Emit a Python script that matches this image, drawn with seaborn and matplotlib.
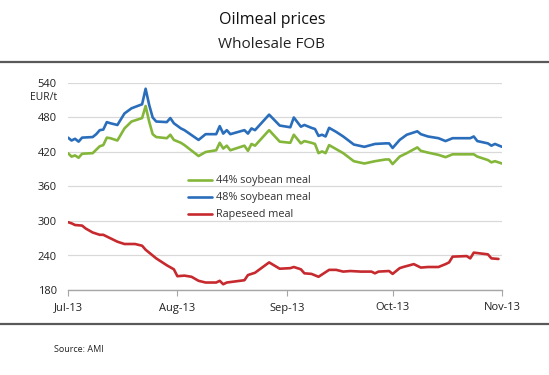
import matplotlib
matplotlib.use("Agg")
import matplotlib.pyplot as plt
from matplotlib.lines import Line2D
import seaborn as sns
import pandas as pd

# ---- data (day offsets from 1 Jul 2013, EUR/t) ----
soy_days = [0, 1, 2, 3, 4, 7, 8, 9, 10, 11, 12, 14, 16, 18, 21, 22, 23, 24, 25, 28,
            29, 30, 32, 33, 37, 39, 42, 43, 44, 45, 46, 50, 51, 52, 53, 57, 60, 63, 64,
            66, 67, 69, 70, 71, 72, 73, 74, 76, 78, 81, 84, 87, 90, 91, 92, 94, 96, 99,
            100, 102, 105, 107, 109, 114, 115, 116, 119, 120, 121, 123]
soy48 = [445, 440, 443, 438, 445, 446, 451, 458, 459, 472, 470, 467, 487, 496, 503, 530,
         502, 480, 473, 472, 479, 470, 461, 458, 441, 451, 451, 465, 452, 458, 451, 458,
         452, 461, 458, 485, 466, 463, 480, 464, 467, 462, 460, 448, 450, 447, 462, 455,
         447, 433, 429, 434, 435, 435, 427, 441, 450, 456, 451, 447, 444, 439, 444, 444,
         447, 439, 435, 431, 434, 429]
soy44 = [418, 412, 414, 410, 417, 418, 424, 430, 432, 445, 444, 440, 461, 473, 479, 500,
         473, 451, 446, 444, 450, 441, 436, 432, 413, 420, 423, 436, 426, 431, 423, 431,
         422, 434, 431, 458, 438, 436, 450, 435, 439, 436, 434, 418, 421, 418, 432, 425,
         418, 404, 400, 404, 407, 407, 399, 412, 418, 428, 422, 419, 415, 411, 416, 416,
         416, 412, 406, 402, 404, 400]
rape_days = [0, 1, 2, 4, 5, 7, 9, 10, 12, 14, 16, 19, 21, 22, 25, 28, 30, 31, 33, 35,
             37, 39, 42, 43, 44, 45, 50, 51, 53, 57, 60, 63, 64, 66, 67, 69, 71, 74, 76,
             78, 80, 83, 86, 87, 88, 91, 92, 94, 95, 98, 100, 102, 105, 107, 108, 109,
             113, 114, 115, 119, 120, 122]
rapeseed = [298, 296, 293, 292, 287, 280, 276, 276, 270, 264, 260, 260, 257, 250, 235,
            223, 216, 204, 205, 203, 196, 193, 193, 196, 190, 193, 197, 206, 210, 228,
            217, 218, 220, 216, 209, 208, 203, 215, 215, 212, 213, 212, 212, 209, 212,
            213, 208, 218, 220, 225, 219, 220, 220, 225, 228, 238, 239, 235, 245, 242,
            235, 234]
series_names = ["44% soybean meal", "48% soybean meal", "Rapeseed meal"]
colors = ["#84B63A", "#2A6EBB", "#C62A2E"]
tick_labels = ["Jul-13", "Aug-13", "Sep-13", "Oct-13", "Nov-13"]
yticks = [180, 240, 300, 360, 420, 480, 540]

start = pd.Timestamp("2013-07-01")
frames = [
    pd.DataFrame({"date": start + pd.to_timedelta(soy_days, "D"), "price": soy44, "series": series_names[0]}),
    pd.DataFrame({"date": start + pd.to_timedelta(soy_days, "D"), "price": soy48, "series": series_names[1]}),
    pd.DataFrame({"date": start + pd.to_timedelta(rape_days, "D"), "price": rapeseed, "series": series_names[2]}),
]
df = pd.concat(frames, ignore_index=True)

sns.set_theme(style="white")
plt.rcParams["font.family"] = ["Open Sans", "DejaVu Sans"]

W, H = 549, 375
fig = plt.figure(figsize=(W / 100, H / 100), dpi=100)
ax = fig.add_axes([68 / W, 1 - 290 / H, 434 / W, 207 / H])

sns.lineplot(data=df, x="date", y="price", hue="series", hue_order=series_names,
             palette=dict(zip(series_names, colors)), linewidth=1.9, ax=ax,
             estimator=None, sort=True)

ax.set_xlim(start, pd.Timestamp("2013-11-01"))
ax.set_ylim(180, 540)
ax.set_yticks(yticks)
ax.set_yticklabels([str(v) for v in yticks])
month_ticks = pd.date_range("2013-07-01", "2013-11-01", freq="MS")
ax.set_xticks(month_ticks)
ax.set_xticklabels(tick_labels)
ax.set_xlabel("")
ax.set_ylabel("")
ax.yaxis.grid(True, color="#d9d9d9", linewidth=0.9)
ax.set_axisbelow(True)
for s in ["left", "right", "top"]:
    ax.spines[s].set_visible(False)
ax.spines["bottom"].set_color("#a6a6a6")
ax.spines["bottom"].set_linewidth(1.0)
ax.tick_params(axis="x", bottom=True, length=4, width=0.8, color="#a6a6a6",
               direction="out", pad=5, labelsize=8, labelcolor="#222222")
ax.tick_params(axis="y", left=False, length=0, pad=8, labelsize=8, labelcolor="#222222")

handles, labels = ax.get_legend_handles_labels()
ax.legend(handles, labels, loc="upper left", bbox_to_anchor=(183 / W, 1 - 170 / H),
          bbox_transform=fig.transFigure, frameon=False, fontsize=7.8,
          handlelength=2.2, handletextpad=0.3, labelspacing=0.55, borderpad=0,
          labelcolor="#333333")

fig.text(57 / W, 1 - 98 / H, "EUR/t", ha="right", va="center", fontsize=7.5, color="#222222")
fig.text(272 / W, 1 - 20 / H, "Oilmeal prices", ha="center", va="center", fontsize=11.5, color="#111111")
fig.text(272 / W, 1 - 44 / H, "Wholesale FOB", ha="center", va="center", fontsize=11, color="#222222")
fig.text(54 / W, 1 - 349 / H, "Source: AMI", ha="left", va="center", fontsize=6.5, color="#222222")

fig.add_artist(Line2D([0, 1], [1 - 62 / H, 1 - 62 / H], transform=fig.transFigure,
                      color="#595959", linewidth=1.6))
fig.add_artist(Line2D([0, 1], [1 - 324 / H, 1 - 324 / H], transform=fig.transFigure,
                      color="#595959", linewidth=1.6))

fig.savefig("out.png", dpi=100)
